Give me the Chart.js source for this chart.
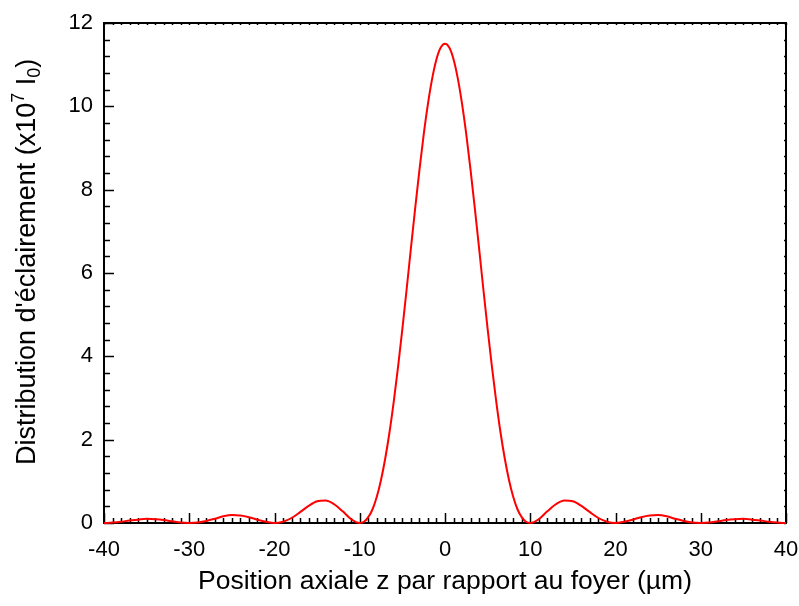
<!DOCTYPE html>
<html>
<head>
<meta charset="utf-8">
<script src="https://cdn.jsdelivr.net/npm/chart.js@4.4.0/dist/chart.umd.min.js"></script>
<style>
  html, body { margin: 0; padding: 0; background: #fff; }
  #wrap { width: 799px; height: 606px; position: relative; }
</style>
</head>
<body>
<div id="wrap"><canvas id="axialChart"></canvas></div>
<script>
// Position axiale z (µm)
const zPositions = [
  -40, -39, -38, -37, -36, -35, -34, -33, -32, -31,
  -30, -29, -28, -27, -26, -25, -24, -23, -22, -21,
  -20, -19, -18, -17, -16, -15, -14, -13, -12, -11,
  -10, -9.5, -9, -8.5, -8, -7.5, -7, -6.5, -6, -5.5,
  -5, -4.5, -4, -3.5, -3, -2.5, -2, -1.5, -1, -0.5,
  0, 0.5, 1, 1.5, 2, 2.5, 3, 3.5, 4, 4.5,
  5, 5.5, 6, 6.5, 7, 7.5, 8, 8.5, 9, 9.5,
  10, 11, 12, 13, 14, 15, 16, 17, 18, 19,
  20, 21, 22, 23, 24, 25, 26, 27, 28, 29,
  30, 31, 32, 33, 34, 35, 36, 37, 38, 39, 40
];
// Distribution d'éclairement (x10^7 I0)
const intensity = [
  0, 0.01, 0.03, 0.06, 0.08, 0.10, 0.09, 0.07, 0.04, 0.01,
  0, 0.01, 0.05, 0.10, 0.16, 0.19, 0.18, 0.14, 0.08, 0.03,
  0, 0.03, 0.12, 0.26, 0.41, 0.52, 0.54, 0.45, 0.28, 0.09,
  0, 0.03, 0.14, 0.33, 0.63, 1.04, 1.56, 2.19, 2.93, 3.76,
  4.66, 5.61, 6.59, 7.55, 8.47, 9.32, 10.06, 10.67, 11.13, 11.41,
  11.50, 11.41, 11.13, 10.67, 10.06, 9.32, 8.47, 7.55, 6.59, 5.61,
  4.66, 3.76, 2.93, 2.19, 1.56, 1.04, 0.63, 0.33, 0.14, 0.03,
  0, 0.09, 0.28, 0.45, 0.54, 0.52, 0.41, 0.26, 0.12, 0.03,
  0, 0.03, 0.08, 0.14, 0.18, 0.19, 0.16, 0.10, 0.05, 0.01,
  0, 0.01, 0.04, 0.07, 0.09, 0.10, 0.08, 0.06, 0.03, 0.01, 0
];
const xTickValues = [-40, -30, -20, -10, 0, 10, 20, 30, 40];
const yTickValues = [0, 2, 4, 6, 8, 10, 12];

const FONT = 'Liberation Sans, Arial, sans-serif';

// cadre + graduations vers l'intérieur
const frameTicks = {
  id: 'frameTicks',
  beforeDatasetsDraw(chart) {
    const { ctx, chartArea: a, scales: { x, y } } = chart;
    ctx.save();
    ctx.strokeStyle = '#000';
    ctx.lineWidth = 2;
    ctx.strokeRect(a.left, a.top, a.right - a.left, a.bottom - a.top);

    ctx.lineWidth = 1.5;
    ctx.beginPath();
    for (let v = x.min; v <= x.max; v += 1) {
      const px = Math.round(x.getPixelForValue(v)) + 0.5;
      const major = v % 10 === 0;
      ctx.moveTo(px, a.bottom);
      ctx.lineTo(px, a.bottom - (major ? 10 : 5));
      ctx.moveTo(px, a.top);
      ctx.lineTo(px, a.top + 2);
    }
    for (let i = 0; i <= 30; i++) {
      const v = y.min + i * 0.4;
      const py = Math.round(y.getPixelForValue(v)) + 0.5;
      const major = i % 5 === 0;
      ctx.moveTo(a.left, py);
      ctx.lineTo(a.left + (major ? 10 : 6), py);
      ctx.moveTo(a.right, py);
      ctx.lineTo(a.right - 2, py);
    }
    ctx.stroke();
    ctx.restore();
  }
};

// titre vertical avec exposant / indice
const yTitle = {
  id: 'yTitle',
  afterDraw(chart) {
    const { ctx } = chart;
    const parts = [
      { t: "Distribution d'éclairement (x10", size: 27, dy: 0 },
      { t: '7', size: 18, dy: -11 },
      { t: ' I', size: 27, dy: 0 },
      { t: '0', size: 18, dy: 5 },
      { t: ')', size: 27, dy: 0 }
    ];
    ctx.save();
    ctx.translate(35, 465);
    ctx.rotate(-Math.PI / 2);
    ctx.fillStyle = '#000';
    ctx.textAlign = 'left';
    ctx.textBaseline = 'alphabetic';
    let cx = 0;
    parts.forEach(p => {
      ctx.font = p.size + 'px ' + FONT;
      ctx.fillText(p.t, cx, p.dy);
      cx += ctx.measureText(p.t).width;
    });
    ctx.restore();
  }
};

new Chart(document.getElementById('axialChart'), {
  type: 'line',
  data: {
    datasets: [{
      data: zPositions.map((z, i) => ({ x: z, y: intensity[i] })),
      borderColor: '#ff0000',
      borderWidth: 2,
      pointRadius: 0,
      cubicInterpolationMode: 'monotone',
      clip: false
    }]
  },
  options: {
    responsive: true,
    maintainAspectRatio: false,
    animation: false,
    layout: { autoPadding: false, padding: { top: 23, right: 13, left: 0, bottom: 0 } },
    plugins: {
      legend: { display: false },
      tooltip: { enabled: false }
    },
    scales: {
      x: {
        type: 'linear',
        min: -40,
        max: 40,
        afterBuildTicks: s => { s.ticks = xTickValues.map(v => ({ value: v })); },
        afterFit: s => { s.height = 83; s.paddingLeft = 0; s.paddingRight = 0; },
        grid: { display: false, drawTicks: false },
        border: { display: false },
        ticks: { color: '#000', padding: 14, maxRotation: 0, font: { family: FONT, size: 22 } },
        title: {
          display: true,
          text: 'Position axiale z par rapport au foyer (µm)',
          color: '#000',
          font: { family: FONT, size: 26.5 },
          padding: { bottom: 8 }
        }
      },
      y: {
        min: 0,
        max: 12,
        afterBuildTicks: s => { s.ticks = yTickValues.map(v => ({ value: v })); },
        afterFit: s => { s.width = 104; s.paddingTop = 0; s.paddingBottom = 0; },
        grid: { display: false, drawTicks: false },
        border: { display: false },
        ticks: { color: '#000', padding: 11, font: { family: FONT, size: 22 } },
        title: { display: false }
      }
    }
  },
  plugins: [frameTicks, yTitle]
});
</script>
</body>
</html>
